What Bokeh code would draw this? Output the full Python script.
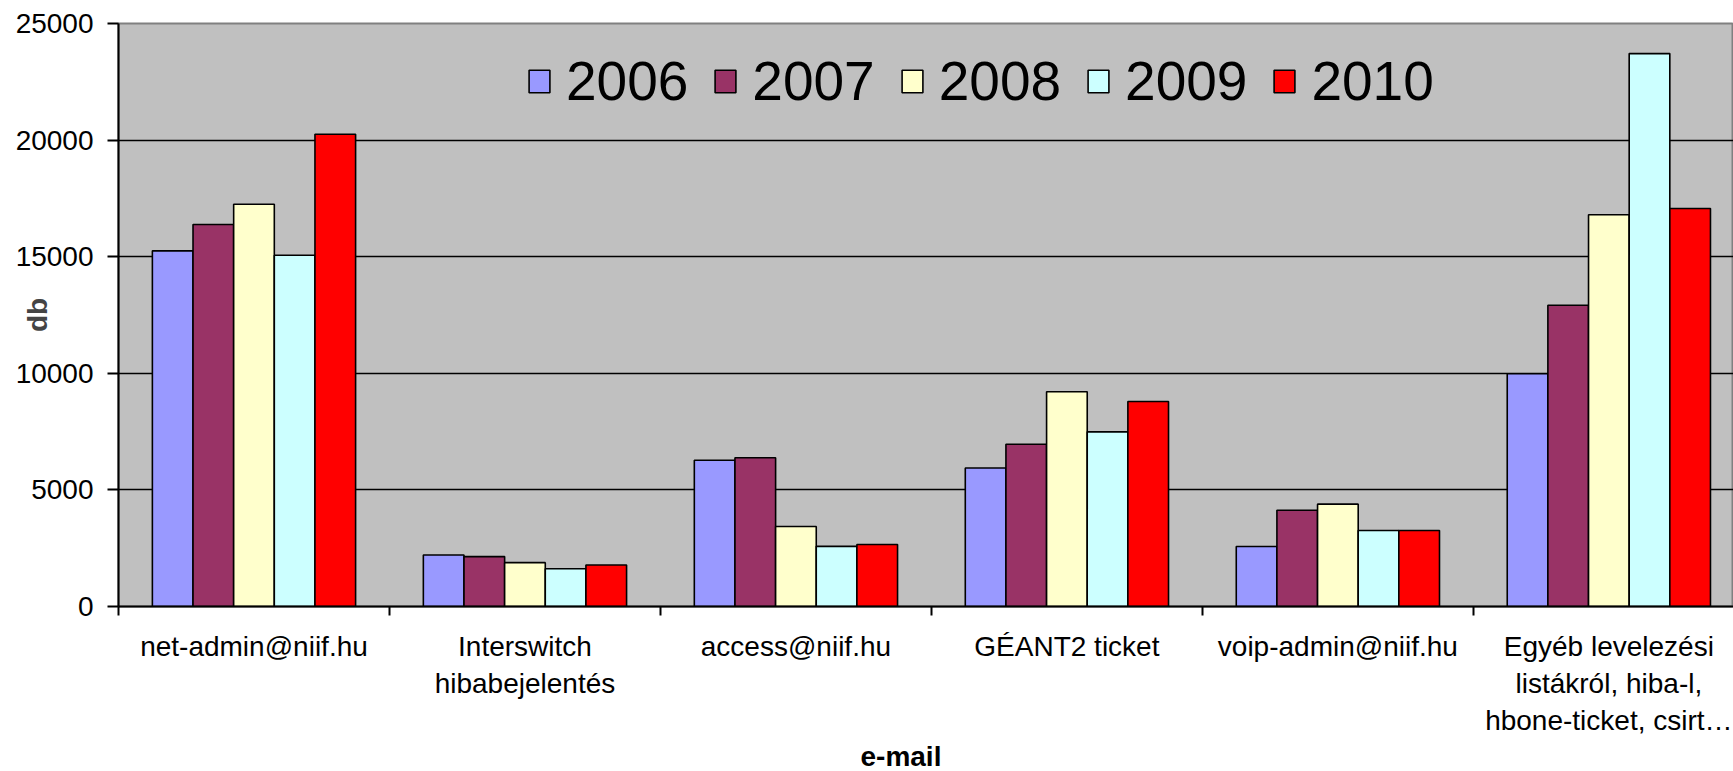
from bokeh.plotting import figure
from bokeh.models import (ColumnDataSource, FixedTicker, Legend, LegendItem,
                          Range1d, Title)
from bokeh.embed import file_html
from bokeh.resources import INLINE

# ---------------- data ----------------
categories = [
    "net-admin@niif.hu",
    "Interswitch\nhibabejelentés",
    "access@niif.hu",
    "GÉANT2 ticket",
    "voip-admin@niif.hu",
    "Egyéb levelezési\nlistákról, hiba-l,\nhbone-ticket, csirt…",
]
years = ["2006", "2007", "2008", "2009", "2010"]
v2006 = [15250, 2210, 6270, 5940, 2570, 9980]
v2007 = [16380, 2140, 6380, 6960, 4130, 12920]
v2008 = [17250, 1880, 3430, 9210, 4390, 16800]
v2009 = [15060, 1620, 2580, 7490, 3260, 23710]
v2010 = [20250, 1780, 2660, 8790, 3260, 17070]
colors = ["#9999FF", "#993366", "#FFFFCC", "#CCFFFF", "#FF0000"]
y_ticks = [0, 5000, 10000, 15000, 20000, 25000]
y_label = "db"
x_label = "e-mail"

series = [v2006, v2007, v2008, v2009, v2010]

FONT = "Liberation Sans"

p = figure(width=1733, height=771, output_backend="svg", toolbar_location=None,
           x_range=Range1d(0, 5.96), y_range=Range1d(0, 25000),
           min_border_left=118, min_border_right=0, min_border_top=23,
           min_border_bottom=164, background_fill_color="#C0C0C0",
           border_fill_color="#FFFFFF")
p.outline_line_color = "#808080"
p.outline_line_width = 2

centers = [i + 0.5 for i in range(len(categories))]
bar_w = 0.15
offsets = [-0.3, -0.15, 0.0, 0.15, 0.3]

items = []
for yr, vals, col, off in zip(years, series, colors, offsets):
    src = ColumnDataSource(dict(x=[c + off for c in centers], top=vals))
    r = p.vbar(x="x", top="top", width=bar_w, bottom=0, source=src,
               fill_color=col, line_color="black", line_width=1.6)
    items.append(LegendItem(label=yr, renderers=[r]))

# grid
p.xgrid.visible = False
p.ygrid.ticker = FixedTicker(ticks=y_ticks)
p.ygrid.grid_line_color = "black"
p.ygrid.grid_line_width = 1.6

# y axis
p.yaxis.ticker = FixedTicker(ticks=y_ticks)
p.yaxis.minor_tick_line_color = None
p.yaxis.major_tick_out = 11
p.yaxis.major_tick_in = 0
p.yaxis.major_tick_line_color = "black"
p.yaxis.major_tick_line_width = 2
p.yaxis.axis_line_color = "black"
p.yaxis.axis_line_width = 2
p.yaxis.major_label_text_font = FONT
p.yaxis.major_label_text_font_size = "28px"
p.yaxis.major_label_text_color = "black"
p.yaxis.major_label_standoff = 14
p.yaxis.axis_label = y_label
p.yaxis.axis_label_text_font = FONT
p.yaxis.axis_label_text_font_style = "bold"
p.yaxis.axis_label_text_font_size = "28px"
p.yaxis.axis_label_standoff = -40

# x axis: labels at category centres, ticks at boundaries (minor)
p.xaxis.ticker = FixedTicker(ticks=centers,
                             minor_ticks=list(range(len(categories) + 1)))
p.xaxis.major_label_overrides = {c: lab for c, lab in zip(centers, categories)}
p.xaxis.major_tick_out = 0
p.xaxis.major_tick_in = 0
p.xaxis.minor_tick_out = 9
p.xaxis.minor_tick_in = 0
p.xaxis.minor_tick_line_color = "black"
p.xaxis.minor_tick_line_width = 2
p.xaxis.axis_line_color = "black"
p.xaxis.axis_line_width = 2
p.xaxis.major_label_text_font = FONT
p.xaxis.major_label_text_font_size = "28px"
p.xaxis.major_label_text_color = "black"
p.xaxis.major_label_standoff = 15

p.add_layout(Title(text=x_label, align="left", offset=742,
                   text_font=FONT, text_font_size="28px",
                   text_font_style="bold", text_color="black",
                   standoff=0), "below")

legend = Legend(items=items, orientation="horizontal", location=(408, 493),
                label_text_font=FONT, label_text_font_size="55px",
                label_text_color="black", glyph_width=26, glyph_height=28,
                label_standoff=14, spacing=24, padding=0, margin=0,
                border_line_color=None, background_fill_alpha=0)
p.add_layout(legend, "center")

open("out.html", "w").write(file_html(p, INLINE))
